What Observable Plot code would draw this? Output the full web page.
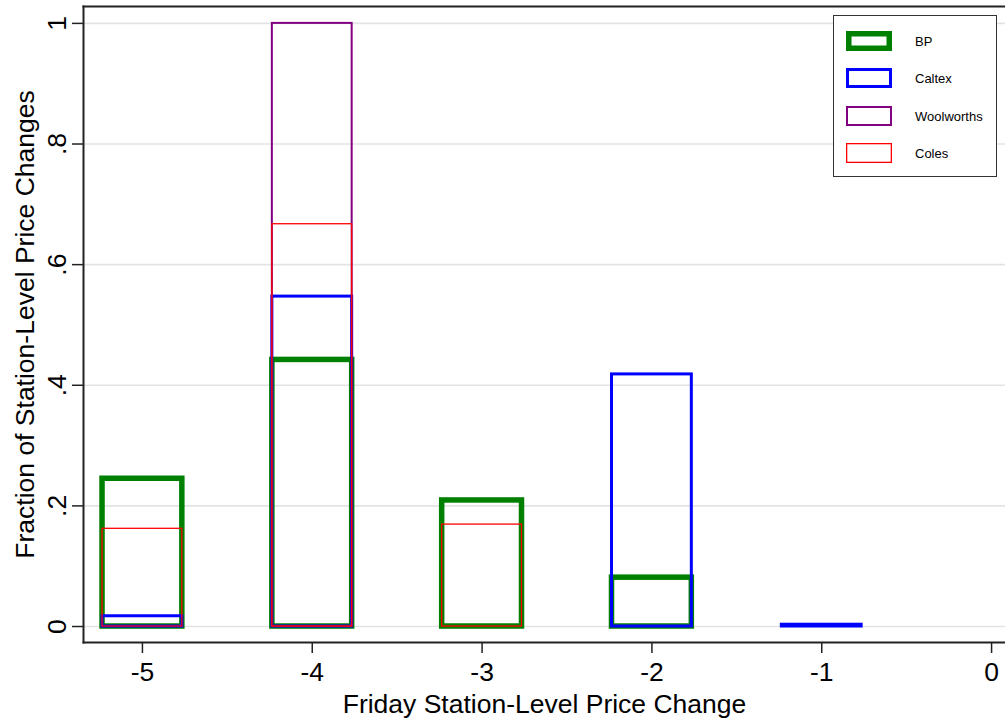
<!DOCTYPE html>
<html>
<head>
<meta charset="utf-8">
<script src="https://cdn.jsdelivr.net/npm/d3@7"></script>
<script src="https://cdn.jsdelivr.net/npm/@observablehq/plot@0.6"></script>
<style>
  html, body { margin: 0; padding: 0; background: #fff; }
  #wrap { position: relative; width: 1005px; height: 719px; overflow: hidden; }
  #legend { position: absolute; left: 833px; top: 15px; width: 164px; height: 162px;
    border: 1px solid #333; background: #fff; box-sizing: border-box;
    font-family: "Liberation Sans", Arial, sans-serif; font-size: 13px; color: #000; }
  .item { position: absolute; left: 11px; height: 22px; display: flex; align-items: center; }
  .item svg { display: block; }
  .item span { margin-left: 22px; }
</style>
</head>
<body>
<div id="wrap"><div id="chart"></div><div id="legend"></div></div>
<script>
// Data
const priceChanges = [-5, -4, -3, -2, -1];
const bpValues      = [0.245, 0.442, 0.209, 0.081, 0];
const caltexValues  = [0.017, 0.547, 0, 0.418, 0.003];
const woolValues    = [0, 1.0, 0, 0, 0];
const colesValues   = [0.162, 0.667, 0.169, 0, 0];
const seriesNames   = ["BP", "Caltex", "Woolworths", "Coles"];
const seriesColors  = ["#008000", "#0000ff", "#800080", "#ff0000"];
const seriesWidths  = [5.5, 3, 2, 1.3];
const xTicks = [-5, -4, -3, -2, -1, 0];
const yTicks = [0, 0.2, 0.4, 0.6, 0.8, 1];

const allValues = [bpValues, caltexValues, woolValues, colesValues];
const rows = [];
seriesNames.forEach((s, i) => {
  priceChanges.forEach((x, j) => {
    const v = allValues[i][j];
    if (v > 0) rows.push({series: s, x, v, order: i});
  });
});

const font = '"Liberation Sans", Arial, sans-serif';
const fs = 26.5;
const fmtY = d => d === 0 ? "0" : d === 1 ? "1" : String(d).replace(/^0/, "");
const half = 0.235;

const marks = [
  Plot.ruleY(yTicks, {stroke: "#e3e3e3", strokeWidth: 1.6}),
  ...seriesNames.map((s, i) => Plot.rect(rows.filter(r => r.series === s), {
    x1: d => d.x - half, x2: d => d.x + half, y1: 0, y2: "v",
    fill: "none", stroke: seriesColors[i], strokeWidth: seriesWidths[i]
  })),
  Plot.axisX({ticks: xTicks, tickSize: 11, tickPadding: 9, tickFormat: d => String(d),
    fontSize: fs, label: "Friday Station-Level Price Change", labelAnchor: "center",
    labelArrow: "none", labelOffset: 70, stroke: "#222", strokeWidth: 1.5}),
  Plot.axisY({ticks: yTicks, tickSize: 11, tickFormat: null, text: null, label: null, stroke: "#222", strokeWidth: 1.5}),
  Plot.text(yTicks, {y: d => d, text: fmtY, frameAnchor: "left", dx: -26, rotate: -90,
    textAnchor: "middle", lineAnchor: "middle", fontSize: fs, fill: "#000"}),
  Plot.text(["Fraction of Station-Level Price Changes"], {frameAnchor: "left", dx: -58, rotate: -90,
    textAnchor: "middle", lineAnchor: "middle", fontSize: fs, fill: "#000", text: d => d}),
  Plot.frame({anchor: "left", stroke: "#222", strokeWidth: 2}),
  Plot.frame({anchor: "top", stroke: "#222", strokeWidth: 2}),
  Plot.frame({anchor: "bottom", stroke: "#222", strokeWidth: 2})
];

const chart = Plot.plot({
  width: 1005, height: 719,
  marginLeft: 83, marginRight: 0, marginTop: 6, marginBottom: 77,
  style: {fontFamily: font, background: "#fff", color: "#000"},
  x: {domain: [-5.347, 0.082]},
  y: {domain: [-0.0265, 1.028]},
  marks
});
document.getElementById("chart").appendChild(chart);

// Legend
const legend = document.getElementById("legend");
const tops = [14, 51, 89, 126];
seriesNames.forEach((s, i) => {
  const item = document.createElement("div");
  item.className = "item";
  item.style.top = tops[i] + "px";
  const w = seriesWidths[i];
  item.innerHTML = `<svg width="48" height="22"><rect x="${1 + w/2}" y="${1 + w/2}" width="${46 - w}" height="${20 - w}" fill="none" stroke="${seriesColors[i]}" stroke-width="${w}"/></svg><span>${s}</span>`;
  legend.appendChild(item);
});
</script>
</body>
</html>
